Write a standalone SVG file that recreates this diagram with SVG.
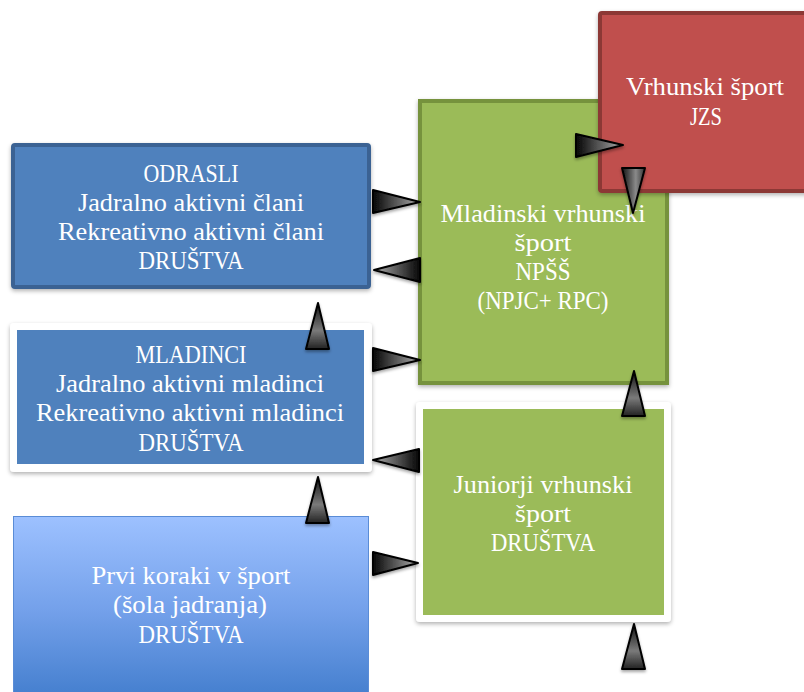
<svg xmlns="http://www.w3.org/2000/svg" width="804" height="692" viewBox="0 0 804 692">
<defs>
<style>
.t{font-family:"Liberation Serif","DejaVu Serif",serif;font-size:26px;fill:#ffffff;text-anchor:middle}
.arr{stroke:#000;stroke-width:2;stroke-linejoin:round;filter:url(#ash)}
.r{fill:url(#gR)}.l{fill:url(#gL)}.u{fill:url(#gU)}.d{fill:url(#gD)}
</style>
<linearGradient id="gR" x1="0" y1="0" x2="1" y2="0"><stop offset="0" stop-color="#050505"/><stop offset="0.6" stop-color="#6a6a6a"/><stop offset="1" stop-color="#b0b0b0"/></linearGradient>
<linearGradient id="gL" x1="1" y1="0" x2="0" y2="0"><stop offset="0" stop-color="#050505"/><stop offset="0.6" stop-color="#6a6a6a"/><stop offset="1" stop-color="#b0b0b0"/></linearGradient>
<linearGradient id="gU" x1="0" y1="0" x2="0" y2="1"><stop offset="0" stop-color="#111"/><stop offset="0.6" stop-color="#7a7a7a"/><stop offset="1" stop-color="#222"/></linearGradient>
<linearGradient id="gD" x1="0" y1="0" x2="1" y2="0"><stop offset="0" stop-color="#111"/><stop offset="0.6" stop-color="#8a8a8a"/><stop offset="1" stop-color="#333"/></linearGradient>
<linearGradient id="gB" x1="0" y1="0" x2="0" y2="1"><stop offset="0" stop-color="#9dc1ff"/><stop offset="0.5" stop-color="#73a0ea"/><stop offset="1" stop-color="#3f7bcb"/></linearGradient>
<filter id="ash" x="-30%" y="-30%" width="160%" height="170%"><feDropShadow dx="0" dy="2" stdDeviation="1.5" flood-color="#000" flood-opacity="0.35"/></filter>
<filter id="bsh" x="-5%" y="-5%" width="110%" height="115%"><feDropShadow dx="0" dy="2" stdDeviation="2" flood-color="#000" flood-opacity="0.3"/></filter>
</defs>

<g id="mladinski">
<rect x="420" y="101" width="247" height="282" fill="#9bbb59" stroke="#76923c" stroke-width="4" filter="url(#bsh)"/>
<text class="t" x="543" y="222" textLength="205" lengthAdjust="spacingAndGlyphs">Mladinski vrhunski</text>
<text class="t" x="543" y="251" textLength="57" lengthAdjust="spacingAndGlyphs">šport</text>
<text class="t" x="543" y="280" textLength="55" lengthAdjust="spacingAndGlyphs">NPŠŠ</text>
<text class="t" x="543" y="309" textLength="131" lengthAdjust="spacingAndGlyphs">(NPJC+ RPC)</text>
</g>

<g id="vrhunski">
<rect x="600" y="13" width="210" height="178" rx="2" fill="#c0504d" stroke="#8c3836" stroke-width="4" filter="url(#bsh)"/>
<text class="t" x="705" y="95" textLength="158" lengthAdjust="spacingAndGlyphs">Vrhunski šport</text>
<text class="t" x="706" y="125" textLength="32" lengthAdjust="spacingAndGlyphs">JZS</text>
</g>

<g id="odrasli">
<rect x="13" y="145" width="356" height="142" rx="2" fill="#4f81bd" stroke="#3a6293" stroke-width="4" filter="url(#bsh)"/>
<text class="t" x="191" y="182" textLength="95" lengthAdjust="spacingAndGlyphs">ODRASLI</text>
<text class="t" x="191" y="211" textLength="226" lengthAdjust="spacingAndGlyphs">Jadralno aktivni člani</text>
<text class="t" x="191" y="240" textLength="266" lengthAdjust="spacingAndGlyphs">Rekreativno aktivni člani</text>
<text class="t" x="191" y="269" textLength="105" lengthAdjust="spacingAndGlyphs">DRUŠTVA</text>
</g>

<g id="mladinci">
<rect x="10" y="323" width="362" height="149" rx="4" fill="#ffffff" filter="url(#bsh)"/>
<rect x="17" y="330" width="347" height="134" fill="#4f81bd"/>
<text class="t" x="191" y="363" textLength="111" lengthAdjust="spacingAndGlyphs">MLADINCI</text>
<text class="t" x="190" y="392" textLength="268" lengthAdjust="spacingAndGlyphs">Jadralno aktivni mladinci</text>
<text class="t" x="190" y="421" textLength="308" lengthAdjust="spacingAndGlyphs">Rekreativno aktivni mladinci</text>
<text class="t" x="191" y="451" textLength="105" lengthAdjust="spacingAndGlyphs">DRUŠTVA</text>
</g>

<g id="juniorji">
<rect x="416" y="402" width="255" height="220" rx="4" fill="#ffffff" filter="url(#bsh)"/>
<rect x="423" y="409" width="241" height="206" fill="#9bbb59"/>
<text class="t" x="543" y="493" textLength="179" lengthAdjust="spacingAndGlyphs">Juniorji vrhunski</text>
<text class="t" x="543" y="522" textLength="56" lengthAdjust="spacingAndGlyphs">šport</text>
<text class="t" x="543" y="551" textLength="104" lengthAdjust="spacingAndGlyphs">DRUŠTVA</text>
</g>

<g id="prvi">
<rect x="13.5" y="516.5" width="355" height="190" fill="url(#gB)" stroke="#5a8cd6" stroke-width="1"/>
<text class="t" x="191" y="584" textLength="199" lengthAdjust="spacingAndGlyphs">Prvi koraki v šport</text>
<text class="t" x="190" y="613" textLength="154" lengthAdjust="spacingAndGlyphs">(šola jadranja)</text>
<text class="t" x="191" y="643" textLength="105" lengthAdjust="spacingAndGlyphs">DRUŠTVA</text>
</g>

<g id="connectors">
<polygon class="arr r" points="576,134 623,145 576,157"/>
<polygon class="arr d" points="622,168 645,168 633,213"/>
<polygon class="arr r" points="373,190 420,202 373,213"/>
<polygon class="arr l" points="420,258 374,270 420,282"/>
<polygon class="arr r" points="373,348 420,360 373,371"/>
<polygon class="arr l" points="419,449 373,460 419,472"/>
<polygon class="arr u" points="318,303 329,349 306,349"/>
<polygon class="arr u" points="318,477 329,523 306,523"/>
<polygon class="arr r" points="373,552 418,563 373,575"/>
<polygon class="arr u" points="634,371 645,416 622,416"/>
<polygon class="arr u" points="634,624 645,669 622,669"/>
</g>
</svg>
